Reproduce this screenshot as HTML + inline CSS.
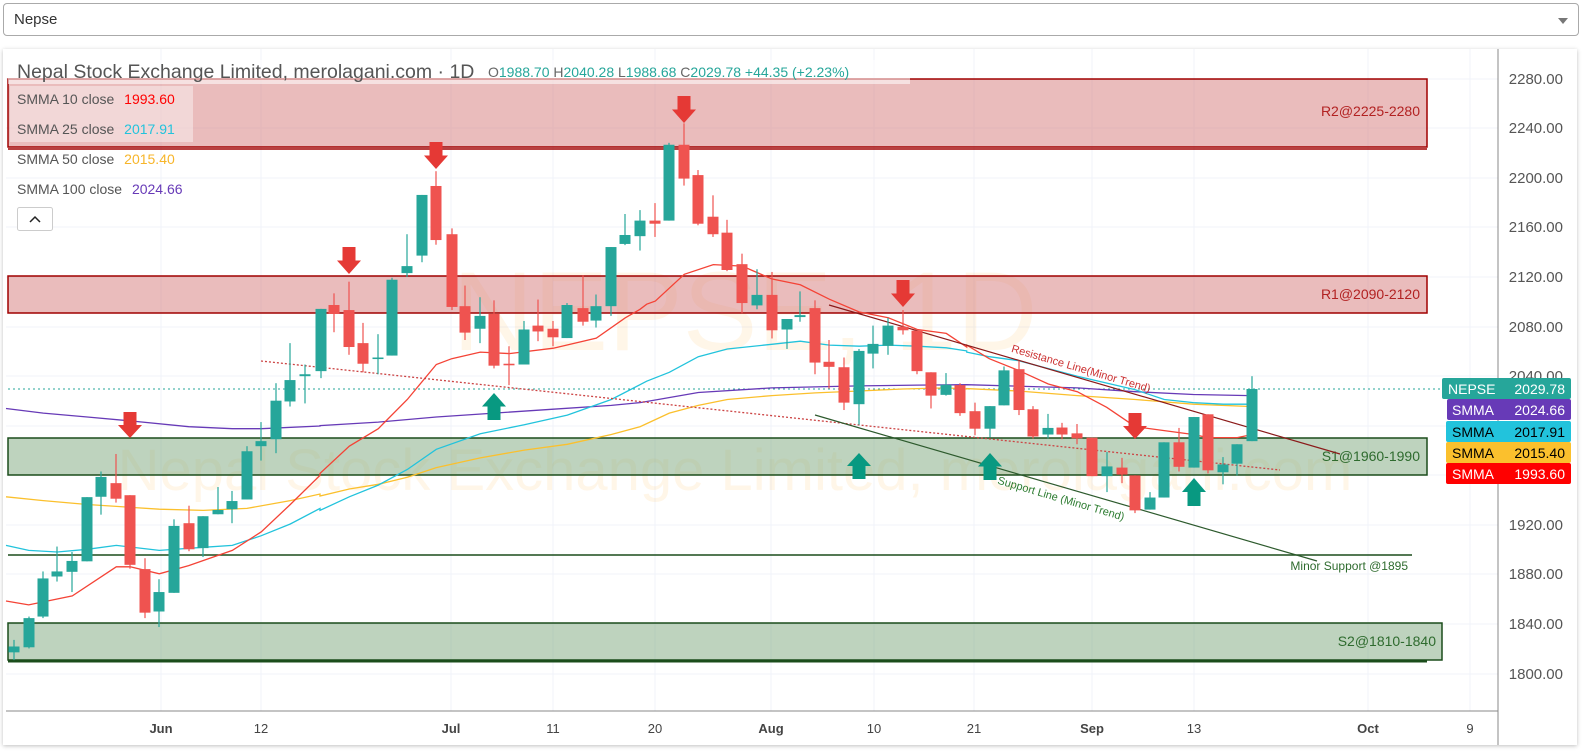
<!DOCTYPE html>
<html><head><meta charset="utf-8">
<style>
html,body{margin:0;padding:0;background:#fff;width:1582px;height:753px;overflow:hidden;font-family:"Liberation Sans",sans-serif;}
.dd{position:absolute;left:3px;top:3px;width:1576px;height:33px;border:1px solid #aaa;border-radius:4px;box-sizing:border-box;background:#fff;}
.dd span{position:absolute;left:10px;top:7px;font-size:15px;color:#333;}
.dd i{position:absolute;right:10px;top:14px;width:0;height:0;border-left:5px solid transparent;border-right:5px solid transparent;border-top:6px solid #777;}
.card{position:absolute;left:3px;top:49px;width:1574px;height:696px;background:#fff;box-shadow:0 1px 4px rgba(0,0,0,0.25);}
svg{position:absolute;left:0;top:0;}
</style></head><body>
<div class="dd"><span>Nepse</span><i></i></div>
<div class="card"></div>
<svg id="s" width="1582" height="753" xmlns="http://www.w3.org/2000/svg" font-family="Liberation Sans, sans-serif">
<g id="grid" stroke="#f0f3fa" stroke-width="1"></g>
<text x="745" y="350" font-size="112" fill="#ff9800" fill-opacity="0.09" text-anchor="middle">NEPSE, 1D</text>
<text x="735" y="490" font-size="58" fill="#ff9800" fill-opacity="0.09" text-anchor="middle">Nepal Stock Exchange Limited, merolagani.com</text>
<rect x="8" y="79" width="1419" height="68" fill="#d67a7a" fill-opacity="0.5" stroke="#a00000" stroke-width="1.5"/>
<line x1="8" y1="149" x2="1427" y2="149" stroke="#a00000" stroke-width="1.5"/>
<text x="1420" y="116" font-size="14" fill="#b22222" text-anchor="end">R2@2225-2280</text>
<rect x="8" y="276" width="1419" height="37" fill="#d67a7a" fill-opacity="0.5" stroke="#a00000" stroke-width="1.5"/>
<text x="1420" y="299" font-size="14" fill="#b22222" text-anchor="end">R1@2090-2120</text>
<rect x="8" y="438" width="1419" height="37" fill="#7ea77e" fill-opacity="0.5" stroke="#1b4d1b" stroke-width="1.5"/>
<text x="1420" y="461" font-size="14" fill="#2e6b2e" text-anchor="end">S1@1960-1990</text>
<rect x="8" y="623" width="1434" height="37" fill="#7ea77e" fill-opacity="0.5" stroke="#1b4d1b" stroke-width="1.5"/>
<line x1="8" y1="661" x2="1427" y2="661" stroke="#1b4d1b" stroke-width="3"/>
<text x="1436" y="646" font-size="14" fill="#2e6b2e" text-anchor="end">S2@1810-1840</text>
<line x1="8" y1="555" x2="1412" y2="555" stroke="#1b4d1b" stroke-width="1.5"/>
<text x="1408" y="570" font-size="12" fill="#2e6b2e" text-anchor="end">Minor Support @1895</text>
<line x1="8" y1="389" x2="1442" y2="389" stroke="#26a69a" stroke-width="1" stroke-dasharray="2,3"/>
<g id="ma" fill="none" stroke-width="1.3"></g>
<line x1="261" y1="361" x2="1280" y2="470" stroke="#c44" stroke-width="1.3" stroke-dasharray="2,2"/>
<line x1="829" y1="305" x2="1340" y2="454" stroke="#8b1a1a" stroke-width="1.2"/>
<line x1="815" y1="415" x2="1317" y2="561" stroke="#2d5a2d" stroke-width="1.2"/>
<text transform="translate(1080,372) rotate(16.3)" font-size="11" fill="#c33" text-anchor="middle">Resistance Line(Minor Trend)</text>
<text transform="translate(1060,502) rotate(16.3)" font-size="11" fill="#2e7d32" text-anchor="middle">Support Line (Minor Trend)</text>
<g id="cd"></g>
<g id="ar"></g>
<rect x="8" y="60" width="902" height="24" fill="#fff" fill-opacity="0.55"/>
<rect x="10" y="86" width="183" height="56" fill="#fff" fill-opacity="0.4"/>
<text x="17" y="78" font-size="19.5" fill="#555">Nepal Stock Exchange Limited, merolagani.com · 1D</text>
<text x="488" y="77" font-size="14" fill="#666">O<tspan fill="#26a69a">1988.70</tspan> H<tspan fill="#26a69a">2040.28</tspan> L<tspan fill="#26a69a">1988.68</tspan> C<tspan fill="#26a69a">2029.78</tspan> <tspan fill="#26a69a">+44.35 (+2.23%)</tspan></text>
<text x="17" y="104" font-size="14" fill="#555">SMMA 10 close <tspan dx="6" fill="#f00">1993.60</tspan></text>
<text x="17" y="134" font-size="14" fill="#555">SMMA 25 close <tspan dx="6" fill="#22c3dc">2017.91</tspan></text>
<text x="17" y="164" font-size="14" fill="#555">SMMA 50 close <tspan dx="6" fill="#f7b52a">2015.40</tspan></text>
<text x="17" y="194" font-size="14" fill="#555">SMMA 100 close <tspan dx="6" fill="#673ab7">2024.66</tspan></text>
<rect x="17.5" y="207.5" width="35" height="23" rx="2" fill="#fff" stroke="#ccc"/>
<path d="M30 222 L35 217 L40 222" fill="none" stroke="#222" stroke-width="1.5"/>
<line x1="1498" y1="49" x2="1498" y2="745" stroke="#888" stroke-width="1"/>
<line x1="6" y1="711" x2="1498" y2="711" stroke="#888" stroke-width="1"/>
<g font-size="15" fill="#555" text-anchor="end">
<text x="1563" y="84">2280.00</text><text x="1563" y="133">2240.00</text><text x="1563" y="183">2200.00</text><text x="1563" y="232">2160.00</text><text x="1563" y="282">2120.00</text><text x="1563" y="332">2080.00</text><text x="1563" y="381">2040.00</text><text x="1563" y="530">1920.00</text><text x="1563" y="579">1880.00</text><text x="1563" y="629">1840.00</text><text x="1563" y="679">1800.00</text>
</g>
<g font-size="13" fill="#444" text-anchor="middle">
<text x="161" y="733" font-weight="bold">Jun</text><text x="261" y="733">12</text><text x="451" y="733" font-weight="bold">Jul</text><text x="553" y="733">11</text><text x="655" y="733">20</text><text x="771" y="733" font-weight="bold">Aug</text><text x="874" y="733">10</text><text x="974" y="733">21</text><text x="1092" y="733" font-weight="bold">Sep</text><text x="1194" y="733">13</text><text x="1368" y="733" font-weight="bold">Oct</text><text x="1470" y="733">9</text>
</g>
<rect x="1442" y="378" width="129" height="21" rx="2" fill="#26a69a"/>
<text x="1448" y="394" font-size="14" fill="#fff">NEPSE</text><text x="1565" y="394" font-size="14" fill="#fff" text-anchor="end">2029.78</text>
<rect x="1447" y="399" width="124" height="21" rx="2" fill="#673ab7"/>
<text x="1452" y="415" font-size="14" fill="#fff">SMMA</text><text x="1565" y="415" font-size="14" fill="#fff" text-anchor="end">2024.66</text>
<rect x="1446" y="421" width="125" height="21" rx="2" fill="#22c3dc"/>
<text x="1452" y="437" font-size="14" fill="#000">SMMA</text><text x="1565" y="437" font-size="14" fill="#000" text-anchor="end">2017.91</text>
<rect x="1446" y="442" width="125" height="21" rx="2" fill="#fbc02d"/>
<text x="1452" y="458" font-size="14" fill="#000">SMMA</text><text x="1565" y="458" font-size="14" fill="#000" text-anchor="end">2015.40</text>
<rect x="1446" y="463" width="125" height="21" rx="2" fill="#f00"/>
<text x="1452" y="479" font-size="14" fill="#fff">SMMA</text><text x="1565" y="479" font-size="14" fill="#fff" text-anchor="end">1993.60</text>
</svg>
<script>
var NS="http://www.w3.org/2000/svg";
function Y(v){return 277+(v-555)/2.571;}
function el(p,t,a){var e=document.createElementNS(NS,t);for(var k in a)e.setAttribute(k,a[k]);p.appendChild(e);return e;}
var g=document.getElementById('grid');
[161,261,451,553,655,771,874,974,1092,1194,1368,1470].forEach(function(x){el(g,'line',{x1:x,y1:49,x2:x,y2:711});});
[79,128,178,227,277,327,376,426,475,525,574,624,674].forEach(function(y){el(g,'line',{x1:6,y1:y,x2:1498,y2:y});});
var C=[[14,1505,1520,1488,1540,1],[29,1432,1507,1428,1510,1],[43,1330,1428,1312,1432,1],[57,1312,1325,1248,1338,1],[72,1285,1313,1262,1365,1],[87,1121,1286,1121,1286,1],[101,1069,1120,1055,1166,1],[116,1085,1125,1010,1135,0],[130,1116,1295,1116,1305,0],[145,1306,1418,1278,1432,0],[159,1365,1415,1332,1455,1],[174,1195,1367,1178,1367,1],[189,1188,1255,1143,1260,0],[203,1170,1252,1170,1275,1],[218,1154,1165,1095,1165,1],[232,1131,1152,1105,1188,1],[247,1003,1127,990,1127,1],[261,977,990,928,1027,1],[276,873,972,828,1008,1],[290,820,875,725,888,1],[305,805,810,780,880,1],[321,637,797,637,815,1],[334,627,650,597,697,0],[349,640,735,567,755,0],[363,725,778,673,800,0],[378,762,766,702,805,1],[392,562,757,557,757,1],[407,527,545,445,555,1],[422,344,500,344,517,1],[436,321,460,283,472,0],[452,445,632,430,640,0],[465,630,698,577,717,0],[480,655,688,607,725,1],[494,650,783,615,790,0],[509,778,782,733,833,0],[524,690,780,668,780,1],[538,680,695,613,720,0],[553,688,710,668,733,0],[567,627,712,622,712,1],[583,635,670,550,680,0],[596,630,667,600,685,1],[611,478,630,478,655,1],[625,447,470,393,473,1],[640,410,450,383,487,1],[655,410,418,365,452,0],[669,215,410,210,410,1],[684,215,302,160,320,0],[698,293,418,280,422,0],[713,400,445,345,452,0],[727,441,537,408,540,0],[742,522,622,495,648,0],[757,601,628,535,638,1],[772,601,692,542,713,0],[787,663,690,663,740,1],[800,653,658,592,670,1],[815,635,775,615,805,0],[829,773,786,717,842,0],[844,787,878,762,897,0],[859,745,882,740,935,1],[873,727,752,680,790,1],[888,680,732,660,755,1],[903,683,692,640,703,0],[917,693,797,693,805,0],[931,800,860,800,893,0],[946,832,858,802,860,1],[960,833,905,828,912,0],[975,900,945,878,962,0],[990,887,945,887,968,1],[1004,795,885,785,885,1],[1019,792,897,770,910,0],[1033,895,965,887,970,0],[1048,943,960,907,970,1],[1062,942,960,930,972,0],[1077,957,970,933,985,0],[1092,968,1067,968,1067,0],[1107,1042,1067,1005,1108,1],[1122,1045,1063,1020,1085,0],[1135,1065,1155,1065,1162,0],[1150,1122,1153,1108,1153,1],[1164,980,1122,980,1122,1],[1179,980,1043,943,1055,0],[1194,915,1045,915,1045,1],[1208,908,1052,908,1060,0],[1223,1037,1057,1018,1088,1],[1237,985,1035,985,1065,1],[1252,843,977,810,977,1]];
var cd=document.getElementById('cd');
C.forEach(function(c){var col=c[5]?'#26a69a':'#ef5350';var x=c[0];
el(cd,'line',{x1:x,y1:Y(c[3]),x2:x,y2:Y(c[4]),stroke:col,'stroke-width':1.2});
var t=Y(c[1]),b=Y(c[2]);if(b-t<1.5)b=t+1.5;
el(cd,'rect',{x:x-5.5,y:t,width:11,height:b-t,fill:col});});
function P(segs){var pts=[];segs.forEach(function(s){var off=s[0];s[1].forEach(function(p){pts.push([p[0]/3+off,Y(p[1])]);});});pts.sort(function(a,b){return a[0]-b[0];});return pts.map(function(p){return p[0].toFixed(1)+','+p[1].toFixed(1);}).join(' ');}
var ma=document.getElementById('ma');
el(ma,'polyline',{stroke:'#673ab7',points:P([[0,[[18,893],[130,905],[262,915],[391,925],[566,940],[697,945],[784,945],[960,938]]],[320,[[0,937],[175,928],[349,915],[523,905],[700,895],[874,885],[980,875]]],[640,[[0,878],[175,852],[395,840],[658,835],[832,833],[980,832]]],[960,[[20,832],[352,840],[526,850],[700,857],[870,860]]]])});
el(ma,'polyline',{stroke:'#fbc02d',points:P([[0,[[18,1120],[130,1130],[262,1140],[478,1152],[610,1155],[741,1150],[871,1130],[960,1113]]],[320,[[0,1118],[88,1100],[175,1088],[262,1070],[349,1045],[481,1020],[613,1000],[742,985],[874,960],[980,932]]],[640,[[0,940],[88,905],[175,885],[262,870],[395,860],[526,853],[658,848],[788,843],[919,840],[980,842]]],[960,[[20,843],[175,848],[352,860],[526,870],[700,882],[870,888]]]])});
el(ma,'polyline',{stroke:'#22c3dc',points:P([[0,[[18,1245],[86,1258],[172,1262],[262,1255],[349,1245],[478,1258],[610,1250],[697,1245],[784,1220],[871,1190],[960,1150]]],[320,[[0,1155],[88,1120],[175,1090],[262,1050],[349,998],[481,958],[613,935],[742,910],[874,870],[980,823]]],[640,[[0,832],[88,800],[175,760],[262,740],[395,728],[481,720],[568,730],[658,733],[745,730],[832,733],[919,737],[980,748]]],[960,[[20,745],[88,760],[175,770],[352,810],[526,845],[613,870],[700,878],[790,882],[870,882]]]])});
el(ma,'polyline',{stroke:'#f44336',points:P([[0,[[18,1388],[86,1398],[217,1375],[349,1300],[391,1300],[478,1318],[566,1297],[697,1258],[784,1210],[871,1140],[960,1065]]],[320,[[0,1060],[88,990],[175,945],[262,870],[349,780],[395,765],[481,748],[568,752],[700,738],[829,712],[916,660],[980,625]]],[640,[[0,638],[46,617],[133,548],[220,523],[307,527],[395,560],[481,575],[568,612],[658,645],[745,660],[832,690],[919,700],[980,730]]],[960,[[20,735],[88,765],[175,795],[265,830],[352,850],[440,890],[526,940],[613,950],[700,960],[745,968],[832,968],[877,960]]]])});
var ar=document.getElementById('ar');
function down(x,t,b){var h=b-t,s=t+h*0.5;el(ar,'polygon',{fill:'#e53935',points:[x-6.5,t,x+6.5,t,x+6.5,s,x+12,s,x,b,x-12,s,x-6.5,s].join(' ')});}
function up(x,t,b){var h=b-t,s=t+h*0.5;el(ar,'polygon',{fill:'#089981',points:[x,t,x+12,s,x+6.5,s,x+6.5,b,x-6.5,b,x-6.5,s,x-12,s].join(' ')});}
down(130,412,438);down(349,247,274);down(436,142,169);down(684,96,123);down(903,280,307);down(1135,413,439);
up(494,393,420);up(859,453,479);up(990,453,480);up(1194,478,506);
</script>
</body></html>
